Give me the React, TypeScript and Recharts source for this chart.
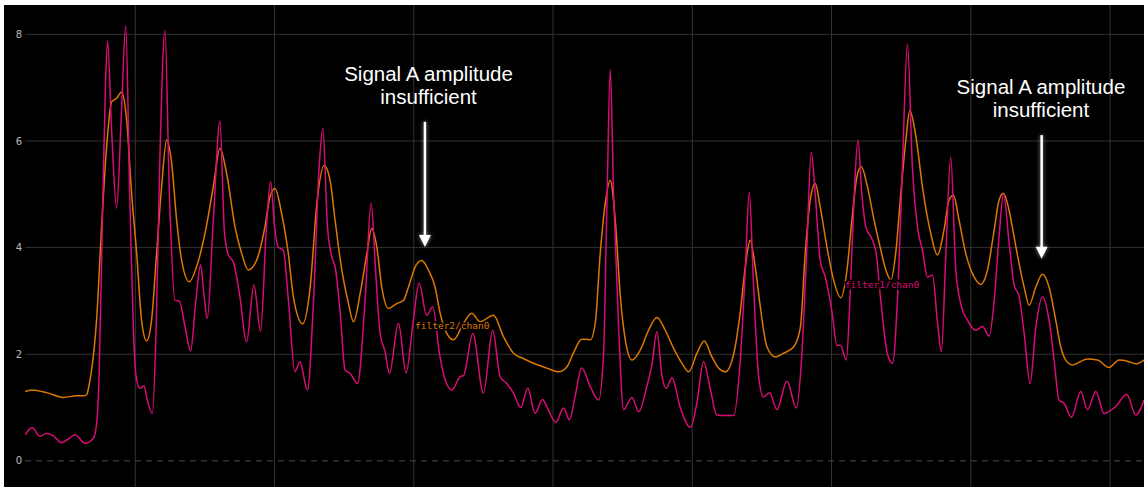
import React from "react";
import {
  LineChart,
  Line,
  XAxis,
  YAxis,
  CartesianGrid,
  ReferenceLine,
  ReferenceDot,
} from "recharts";

// filter1/chan0 (magenta) – time (s) and amplitude
const chan1Time = [
  2.08, 2.6, 3.16, 3.64, 4.11, 4.71, 5.19, 5.67, 6.39, 6.98, 7.23, 7.4, 7.6, 7.85, 8.01, 8.3, 8.66, 9.0, 9.31, 9.6,
  9.86, 10.05, 10.34, 10.62, 10.85, 11.22, 11.5, 11.75, 12.13, 12.45, 12.85, 13.16, 13.57, 13.97, 14.35, 14.69, 14.9,
  15.17, 15.6, 16.08, 16.4, 16.68, 17.04, 17.5, 17.99, 18.52, 19.0, 19.4, 19.72, 20.0, 20.27, 20.63, 21.0, 21.46,
  21.82, 22.36, 22.8, 23.2, 23.47, 23.8, 24.11, 24.35, 24.71, 25.07, 25.43, 25.96, 26.5, 26.94, 27.25, 27.58, 27.94,
  28.25, 28.9, 29.45, 29.95, 30.38, 30.93, 31.36, 31.85, 32.25, 32.73, 33.33, 33.57, 34.24, 35.0, 35.67, 36.2, 36.68,
  37.16, 37.68, 38.19, 38.71, 39.24, 39.67, 40.2, 40.75, 41.18, 41.58, 42.06, 42.68, 43.27, 43.63, 43.87, 44.11,
  44.35, 44.71, 45.07, 45.67, 46.15, 46.74, 47.1, 47.46, 47.82, 48.13, 48.54, 49.14, 49.86, 50.34, 50.81, 51.29,
  51.77, 52.49, 52.97, 53.45, 53.81, 54.09, 54.4, 54.76, 55.12, 55.55, 56.08, 56.8, 57.47, 57.87, 58.23, 58.54, 58.83,
  59.19, 59.55, 60.03, 60.39, 60.63, 61.06, 61.35, 61.63, 61.9, 62.18, 62.46, 62.94, 63.2, 63.54, 64.02, 64.38, 64.73,
  65.09, 65.45, 65.81, 66.17, 66.53, 66.89, 67.25, 67.61, 67.89, 68.2, 68.56, 68.92, 69.28, 69.76, 70.36, 70.84,
  71.32, 71.68, 72.03, 72.35, 72.75, 73.11, 73.47, 73.83, 74.26, 74.67, 75.15, 75.62, 75.98, 76.34, 76.7, 77.23, 77.9,
  78.38, 78.98, 79.57, 80.41, 81.2, 81.85, 82.45,
];
const chan1Amp = [
  0.49, 0.62, 0.46, 0.52, 0.47, 0.34, 0.41, 0.49, 0.33, 0.42, 0.71, 1.6, 4.0, 7.0, 7.87, 6.2, 4.74, 6.5, 8.16, 5.0,
  2.5, 1.6, 1.36, 1.41, 1.15, 0.89, 2.5, 5.5, 8.07, 5.0, 3.01, 3.0, 2.52, 2.06, 3.0, 3.68, 3.2,
  2.67, 4.5, 6.37, 4.3, 3.86, 3.73, 3.1, 2.23, 3.3, 2.43, 4.3, 5.24, 4.4, 4.01, 3.95, 3.0, 1.67,
  1.86, 1.33, 3.0, 5.5, 6.24, 4.4, 3.83, 3.64, 2.8, 1.7, 1.64, 1.45, 3.0, 4.83, 3.6, 2.39, 2.05,
  1.64, 2.58, 1.65, 2.6, 3.33, 2.73, 2.89, 2.0, 1.52, 1.33, 1.58, 1.6, 2.39, 1.27, 2.45, 1.58, 1.45,
  1.27, 1.0, 1.36, 0.89, 1.15, 0.95, 0.72, 0.99, 0.77, 1.2, 1.74, 1.39, 1.14, 2.0, 4.8, 7.33,
  5.0, 2.5, 0.96, 1.19, 0.92, 1.4, 1.8, 2.42, 1.6, 1.36, 1.56, 1.0, 0.63, 1.1, 1.86, 1.35,
  0.86, 0.85, 0.85, 1.9, 3.6, 5.04, 3.3, 1.6, 1.2, 1.28, 0.96, 1.5, 0.99, 2.0, 4.0, 5.79, 5.0,
  3.76, 3.45, 2.8, 2.17, 2.17, 1.89, 3.2, 5.0, 6.02, 5.0, 4.39, 4.14, 3.9, 3.0, 2.0, 1.83, 3.0,
  5.5, 7.82, 5.5, 4.39, 3.95, 3.45, 3.48, 2.6, 2.05, 3.8, 5.7, 3.6, 2.95, 2.64, 2.45, 2.52,
  2.34, 3.0, 4.2, 5.01, 4.1, 3.3, 3.08, 2.4, 1.45, 2.5, 3.08, 2.64, 1.9, 1.14, 1.08, 0.82, 1.3,
  0.96, 1.3, 0.89, 1.02, 1.25, 0.86, 1.14,
];

// filter2/chan0 (orange) – time (s) and amplitude
const chan2Time = [
  2.08, 2.55, 3.64, 4.83, 5.79, 6.3, 6.51, 6.66, 6.86, 7.22, 7.58, 7.94, 8.3, 8.66, 9.02, 9.38, 9.74, 10.1, 10.45,
  10.81, 11.17, 11.53, 11.89, 12.25, 12.61, 12.97, 13.33, 13.88, 14.4, 15.0, 15.6, 16.08, 16.56, 17.16, 17.64, 18.11,
  18.71, 19.31, 19.67, 20.03, 20.51, 20.99, 21.35, 22.02, 22.56, 23.04, 23.56, 23.99, 24.35, 24.83, 25.31, 25.67,
  26.15, 26.63, 26.98, 27.34, 27.7, 28.18, 28.78, 29.26, 29.62, 30.1, 30.57, 31.05, 31.53, 31.89, 32.37, 32.85,
  33.57, 34.16, 34.76, 35.72, 36.44, 37.16, 37.87, 38.59, 39.55, 40.39, 40.99, 41.46, 42.06, 42.32, 42.68, 43.04,
  43.39, 43.75, 44.11, 44.47, 44.83, 45.19, 45.67, 46.27, 46.86, 47.46, 48.06, 48.66, 49.26, 49.74, 50.34, 50.86,
  51.41, 51.89, 52.37, 52.97, 53.45, 53.81, 54.16, 54.52, 54.88, 55.36, 55.96, 56.56, 57.28, 57.76, 58.11, 58.47,
  58.83, 59.19, 59.67, 60.15, 60.67, 61.11, 61.46, 61.82, 62.13, 62.58, 63.06, 63.5, 63.9, 64.26, 64.61, 64.97,
  65.33, 65.62, 66.05, 66.53, 67.13, 67.61, 68.09, 68.44, 68.76, 69.16, 69.64, 70.24, 70.72, 71.2, 71.68, 72.03,
  72.35, 72.75, 73.11, 73.47, 73.83, 74.19, 74.67, 75.15, 75.62, 76.1, 76.46, 76.82, 77.3, 78.38, 79.1, 79.93, 80.65,
  81.25, 81.85, 82.49,
];
const chan2Amp = [
  1.3, 1.33, 1.28, 1.19, 1.22, 1.22, 1.24, 1.39, 1.7, 2.64, 4.39, 5.89, 6.73, 6.8, 6.92, 6.39, 5.0, 3.89, 2.64,
  2.25, 2.64, 3.89, 5.14, 6.02, 5.59, 4.51, 3.76, 3.36, 3.64, 4.26, 5.14, 5.86, 5.39, 4.39, 3.89, 3.58,
  3.76, 4.39, 4.95, 5.11, 4.64, 3.89, 3.08, 2.57, 3.26, 4.83, 5.54, 5.26, 4.51, 3.58, 2.95, 2.61,
  3.14, 3.89, 4.36, 4.02, 3.26, 2.86, 2.95, 3.01, 3.26, 3.64, 3.76, 3.58, 3.26, 2.77, 2.39, 2.27,
  2.58, 2.77, 2.61, 2.73, 2.33, 2.02, 1.92, 1.83, 1.74, 1.67, 1.76, 2.02, 2.28, 2.28, 2.27, 2.6,
  3.89, 4.83, 5.26, 4.51, 3.1, 2.27, 1.89, 2.08, 2.45, 2.69, 2.45, 2.11, 1.83, 1.67, 2.02, 2.25,
  1.95, 1.74, 1.67, 2.0, 2.8, 3.64, 4.14, 3.64, 2.9, 2.14, 1.95, 2.02, 2.14, 2.5, 3.89, 4.89,
  5.2, 4.76, 4.01, 3.39, 3.06, 3.58, 4.51, 5.32, 5.52, 5.14, 4.51, 4.0, 3.58, 3.39, 3.9, 5.0,
  6.0, 6.57, 6.1, 5.14, 4.26, 3.86, 4.35, 4.89, 4.98, 4.51, 3.89, 3.45, 3.31, 3.58, 4.33, 4.89,
  5.02, 4.7, 4.2, 3.7, 3.26, 2.92, 3.26, 3.5, 3.26, 2.64, 2.14, 1.89, 1.8, 1.91, 1.89, 1.75, 1.89,
  1.87, 1.82, 1.9,
];

const gridTimes = [10, 20, 30, 40, 50, 60, 70, 80];
const gridAmps = [2, 4, 6, 8];
const ampTicks = [0, 2, 4, 6, 8];
const seriesNames = ["filter1/chan0", "filter2/chan0"];
const noteLines = ["Signal A amplitude", "insufficient"];

const MAGENTA = "#db0c77";
const ORANGE = "#dd7800";

const chan1 = chan1Time.map((t, i) => ({ t, v: chan1Amp[i] }));
const chan2 = chan2Time.map((t, i) => ({ t, v: chan2Amp[i] }));

const SeriesTag = (color: string, text: string) => (props: any) => (
  <text
    x={props.cx}
    y={props.cy}
    dominantBaseline="central"
    fill={color}
    stroke="#000"
    strokeWidth={3}
    paintOrder="stroke"
    fontSize={9.5}
    fontFamily="'DejaVu Sans Mono', monospace"
  >
    {text}
  </text>
);

const Note = (props: any) => (
  <text
    x={props.cx}
    y={props.cy}
    textAnchor="middle"
    fill="#fff"
    fontSize={20.5}
    fontFamily="'Liberation Sans', Arial, sans-serif"
  >
    <tspan x={props.cx} dy={0}>
      {noteLines[0]}
    </tspan>
    <tspan x={props.cx} dy={23}>
      {noteLines[1]}
    </tspan>
  </text>
);

const Arrow = (props: any) => {
  const { x1, y1, x2, y2 } = props;
  return (
    <g style={{ filter: "drop-shadow(0 0 2px rgba(255,255,255,0.55))" }}>
      <line x1={x1} y1={y1} x2={x2} y2={y2 - 10} stroke="#fff" strokeWidth={2.5} />
      <polygon points={`${x2 - 6},${y2 - 12} ${x2 + 6},${y2 - 12} ${x2},${y2}`} fill="#fff" />
    </g>
  );
};

export default function App() {
  return (
    <div style={{ position: "absolute", left: 0, top: 0, width: 1144, height: 487, background: "#fff" }}>
      <div style={{ position: "absolute", left: 4, top: 5, width: 1140, height: 482, background: "#000" }}>
        <LineChart width={1140} height={482} margin={{ top: 0, right: 0, bottom: 0, left: 0 }}>
          <CartesianGrid stroke="#333" horizontalValues={gridAmps} verticalValues={gridTimes} />
          <XAxis type="number" dataKey="t" domain={[2.08, 82.44]} hide allowDataOverflow />
          <YAxis
            type="number"
            domain={[-0.49, 8.55]}
            ticks={ampTicks}
            width={21}
            tickLine={false}
            axisLine={false}
            tickSize={0}
            tickMargin={3}
            tick={{ fill: "#bbb", fontSize: 10, fontFamily: "'DejaVu Sans', sans-serif" }}
            allowDataOverflow
          />
          <ReferenceLine y={0} stroke="#4a4a4a" strokeDasharray="6 5" />
          <Line
            data={chan2}
            dataKey="v"
            type="monotone"
            stroke={ORANGE}
            strokeWidth={1.5}
            dot={false}
            isAnimationActive={false}
          />
          <Line
            data={chan1}
            dataKey="v"
            type="monotone"
            stroke={MAGENTA}
            strokeWidth={1.5}
            dot={false}
            isAnimationActive={false}
          />
          <ReferenceDot x={30.09} y={2.54} r={0} shape={SeriesTag(ORANGE, seriesNames[1])} />
          <ReferenceDot x={60.96} y={3.3} r={0} shape={SeriesTag(MAGENTA, seriesNames[0])} />
          <ReferenceDot x={31.06} y={7.12} r={0} shape={Note} />
          <ReferenceDot x={75.04} y={6.89} r={0} shape={Note} />
          <ReferenceLine
            segment={[
              { x: 30.8, y: 6.36 },
              { x: 30.8, y: 4.01 },
            ]}
            shape={Arrow}
          />
          <ReferenceLine
            segment={[
              { x: 75.09, y: 6.11 },
              { x: 75.09, y: 3.79 },
            ]}
            shape={Arrow}
          />
        </LineChart>
      </div>
    </div>
  );
}
